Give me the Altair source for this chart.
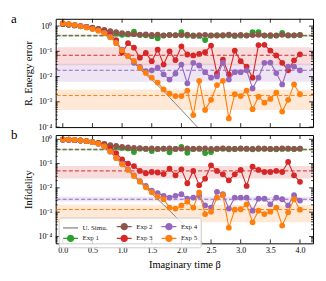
import altair as alt
import pandas as pd

# ---------------- data ----------------
beta = [0.0, 0.1, 0.2, 0.3, 0.4, 0.5, 0.6, 0.7, 0.8, 0.9,
        1.0, 1.1, 1.2, 1.3, 1.4, 1.5, 1.6, 1.7, 1.8, 1.9,
        2.0, 2.1, 2.2, 2.3, 2.4, 2.5, 2.6, 2.7, 2.8, 2.9,
        3.0, 3.1, 3.2, 3.3, 3.4, 3.5, 3.6, 3.7, 3.8, 3.9, 4.0]

exp_names = ["Exp 1", "Exp 2", "Exp 3", "Exp 4", "Exp 5"]
exp_colors = ["#2ca02c", "#8c564b", "#d62728", "#9467bd", "#ff7f0e"]
sim_name = "U. Simu."
sim_color = "#7f7f7f"

# (a) relative energy error
e_sim = [1.25, 1.18, 1.1, 1.0, 0.9, 0.78, 0.66, 0.54, 0.38, 0.22,
         0.115, 0.063, 0.035, 0.02, 0.012, 0.0075, 0.0045, 0.0027, 0.0015, 0.00085,
         0.00048, 0.00027, 0.00015, 0.000085, 0.000048, 0.000027]
e_exp1 = [1.2, 1.13, 1.06, 0.98, 0.92, 0.84, 0.76, 0.68, 0.6, 0.5,
          0.45, 0.47, 0.6, 0.44, 0.43, 0.4, 0.33, 0.42, 0.44, 0.43,
          0.58, 0.42, 0.43, 0.41, 0.28, 0.42, 0.44, 0.42, 0.43, 0.41,
          0.42, 0.43, 0.57, 0.58, 0.42, 0.41, 0.43, 0.54, 0.42, 0.43, 0.44]
e_exp2 = [1.22, 1.15, 1.08, 1.0, 0.93, 0.86, 0.78, 0.7, 0.63, 0.57,
          0.53, 0.5, 0.48, 0.46, 0.47, 0.45, 0.46, 0.43, 0.45, 0.44,
          0.44, 0.46, 0.41, 0.44, 0.45, 0.43, 0.42, 0.44, 0.46, 0.43,
          0.45, 0.42, 0.44, 0.45, 0.43, 0.44, 0.42, 0.45, 0.44, 0.43, 0.45]
e_exp3 = [1.25, 1.17, 1.09, 1.0, 0.92, 0.82, 0.72, 0.6, 0.45, 0.28,
          0.09, 0.21, 0.14, 0.056, 0.087, 0.041, 0.117, 0.03, 0.1, 0.045,
          0.158, 0.075, 0.069, 0.079, 0.093, 0.17, 0.013, 0.047, 0.0123, 0.107,
          0.041, 0.025, 0.0091, 0.178, 0.182, 0.107, 0.069, 0.035, 0.0178, 0.044, 0.076]
e_exp4 = [1.28, 1.19, 1.1, 1.0, 0.9, 0.78, 0.68, 0.55, 0.38, 0.22,
          0.117, 0.065, 0.035, 0.024, 0.0166, 0.0178, 0.0224, 0.0123, 0.0076, 0.0132,
          0.03, 0.0054, 0.035, 0.0275, 0.015, 0.0091, 0.0102, 0.035, 0.0076, 0.015,
          0.015, 0.0178, 0.0034, 0.0091, 0.035, 0.036, 0.0138, 0.0049, 0.025, 0.025, 0.0178]
e_exp5 = [1.31, 1.2, 1.12, 0.98, 0.89, 0.76, 0.66, 0.53, 0.36, 0.21,
          0.11, 0.065, 0.042, 0.022, 0.014, 0.0091, 0.0058, 0.0031, 0.0021, 0.0017,
          0.0017, 0.0028, 0.0003, 0.0068, 0.00048, 0.0012, 0.0046, 0.0068, 0.00022, 0.002,
          0.0017, 0.0028, 0.00051, 0.0016, 0.00093, 0.0013, 0.0023, 0.00041, 0.0012, 0.0049, 0.002]
e_mean = [0.41, 0.43, 0.07, 0.0178, 0.00178]
e_low = [0.38, 0.40, 0.028, 0.0063, 0.00048]
e_high = [0.45, 0.47, 0.145, 0.032, 0.0031]

# (b) infidelity
f_sim = [1.0, 0.98, 0.95, 0.91, 0.85, 0.77, 0.66, 0.52, 0.33, 0.18,
         0.095, 0.053, 0.03, 0.017, 0.0098, 0.0058, 0.0034, 0.002, 0.00115, 0.00066,
         0.00038, 0.00022, 0.000125, 0.000072, 0.000041]
f_exp1 = [0.97, 0.95, 0.92, 0.89, 0.84, 0.77, 0.7, 0.62, 0.55, 0.48,
          0.44, 0.42, 0.3, 0.41, 0.4, 0.33, 0.4, 0.41, 0.29, 0.4,
          0.49, 0.28, 0.4, 0.41, 0.27, 0.3, 0.4, 0.41, 0.39, 0.4,
          0.41, 0.4, 0.39, 0.4, 0.41, 0.4, 0.39, 0.4, 0.41, 0.4, 0.41]
f_exp2 = [0.98, 0.96, 0.93, 0.9, 0.85, 0.78, 0.71, 0.64, 0.58, 0.53,
          0.49, 0.46, 0.44, 0.43, 0.41, 0.42, 0.4, 0.41, 0.42, 0.4,
          0.41, 0.42, 0.4, 0.41, 0.42, 0.4, 0.41, 0.42, 0.41, 0.4,
          0.42, 0.41, 0.4, 0.42, 0.41, 0.4, 0.41, 0.42, 0.41, 0.4, 0.41]
f_exp3 = [0.98, 0.96, 0.93, 0.89, 0.84, 0.77, 0.69, 0.58, 0.42, 0.27,
          0.15, 0.1, 0.079, 0.05, 0.04, 0.045, 0.043, 0.037, 0.062, 0.033,
          0.058, 0.0155, 0.05, 0.0129, 0.024, 0.085, 0.05, 0.036, 0.0204, 0.036,
          0.055, 0.012, 0.074, 0.055, 0.045, 0.045, 0.05, 0.045, 0.117, 0.033, 0.0178]
f_exp4 = [0.99, 0.97, 0.94, 0.9, 0.84, 0.76, 0.65, 0.5, 0.31, 0.17,
          0.1, 0.058, 0.033, 0.019, 0.012, 0.0076, 0.006, 0.0047, 0.004, 0.0047,
          0.0055, 0.0036, 0.004, 0.0047, 0.0019, 0.00155, 0.0069, 0.0055, 0.0014, 0.004,
          0.004, 0.004, 0.00115, 0.0036, 0.0036, 0.0021, 0.004, 0.0034, 0.0019, 0.005, 0.003]
f_exp5 = [1.0, 0.98, 0.95, 0.9, 0.85, 0.76, 0.66, 0.52, 0.32, 0.17,
          0.093, 0.055, 0.031, 0.018, 0.0105, 0.0066, 0.0044, 0.0034, 0.00155, 0.0014,
          0.0019, 0.0027, 0.00155, 0.0065, 0.00083, 0.00105, 0.004, 0.005, 0.00023, 0.00126,
          0.00132, 0.0021, 0.00038, 0.00115, 0.00083, 0.00105, 0.00155, 0.00028, 0.00098, 0.0034, 0.00126]
f_mean = [0.37, 0.39, 0.05, 0.0034, 0.00129]
f_low = [0.34, 0.37, 0.0245, 0.00275, 0.00038]
f_high = [0.40, 0.42, 0.079, 0.0043, 0.002]

band_opacity = [0.12, 0.12, 0.17, 0.17, 0.17]

x_tick_values = [0.0, 0.5, 1.0, 1.5, 2.0, 2.5, 3.0, 3.5, 4.0]
y_major = [1e-4, 1e-3, 1e-2, 1e-1, 1.0]

legend_order = ["U. Simu.", "Exp 1", "Exp 2", "Exp 3", "Exp 4", "Exp 5"]
legend_colors = ["#7f7f7f", "#2ca02c", "#8c564b", "#d62728", "#9467bd", "#ff7f0e"]

# ---------------- styling ----------------
W, H = 259, 109
SERIF = "Liberation Serif"
X_DOMAIN = [-0.12, 4.22]

ring = ("M{r},0A{r},{r},0,1,1,-{r},0A{r},{r},0,1,1,{r},0")
disc = "".join(ring.format(r=r) for r in [0.62, 0.44, 0.26, 0.1])
line_path = "M-1.5,0L1.5,0"
legend_paths = [line_path] + [line_path + disc] * 5

label_expr = ("datum.value >= 0.5 ? '10⁰' : datum.value >= 0.05 ? '10⁻¹' : "
              "datum.value >= 0.005 ? '10⁻²' : datum.value >= 0.0005 ? '10⁻³' : '10⁻⁴'")


def minor_values(lo, hi):
    out = []
    for e in range(-5, 1):
        for k in range(2, 10):
            v = k * 10.0 ** e
            if lo <= v <= hi:
                out.append(v)
    return out


def panel(sim, exps, means, lows, highs, ydom, ytitle, label, bottom):
    ys = alt.Scale(type="log", domain=ydom, nice=False)
    yaxis = alt.Axis(values=y_major, labelExpr=label_expr, title=ytitle,
                     titlePadding=5, labelPadding=4)
    xs = alt.Scale(domain=X_DOMAIN, nice=False, zero=False)
    if bottom:
        xaxis = alt.Axis(values=x_tick_values, format=".1f", title="Imaginary time β",
                         titlePadding=5, labelPadding=3)
    else:
        xaxis = None

    def Y(f):
        return alt.Y(f, type="quantitative", scale=ys, axis=yaxis)

    def X(f):
        return alt.X(f, type="quantitative", scale=xs, axis=xaxis)

    layers = []
    for i in range(5):
        d = pd.DataFrame({"lo": [lows[i]], "hi": [highs[i]]})
        layers.append(alt.Chart(d).mark_rect(color=exp_colors[i], opacity=band_opacity[i]).encode(
            x=alt.value(0), x2=alt.value(W), y=Y("hi"), y2="lo:Q"))
    for i in range(5):
        d = pd.DataFrame({"m": [means[i]]})
        layers.append(alt.Chart(d).mark_rule(color=exp_colors[i], strokeDash=[4, 2.2],
                                             strokeWidth=1).encode(y=Y("m")))
    ds = pd.DataFrame({"b": beta[:len(sim)], "v": sim})
    layers.append(alt.Chart(ds).mark_line(color=sim_color, strokeWidth=1, clip=True).encode(
        x=X("b"), y=Y("v")))
    for i in range(5):
        d = pd.DataFrame({"b": beta, "v": exps[i]})
        layers.append(alt.Chart(d).mark_line(color=exp_colors[i], strokeWidth=1.1, clip=True).encode(
            x=X("b"), y=Y("v")))
        layers.append(alt.Chart(d).mark_circle(color=exp_colors[i], size=34, opacity=1, clip=True).encode(
            x=X("b"), y=Y("v")))
    dmaj = pd.DataFrame({"t": y_major})
    dmin = pd.DataFrame({"t": minor_values(ydom[0], ydom[1])})
    dx = pd.DataFrame({"t": x_tick_values})
    tick = dict(color="black", strokeWidth=0.8)
    layers += [
        alt.Chart(dmaj).mark_rule(**tick).encode(y=Y("t"), x=alt.value(0), x2=alt.value(4)),
        alt.Chart(dmaj).mark_rule(**tick).encode(y=Y("t"), x=alt.value(W - 4), x2=alt.value(W)),
        alt.Chart(dmin).mark_rule(**tick).encode(y=Y("t"), x=alt.value(0), x2=alt.value(2)),
        alt.Chart(dmin).mark_rule(**tick).encode(y=Y("t"), x=alt.value(W - 2), x2=alt.value(W)),
        alt.Chart(dx).mark_rule(**tick).encode(x=X("t"), y=alt.value(H), y2=alt.value(H - 4)),
        alt.Chart(dx).mark_rule(**tick).encode(x=X("t"), y=alt.value(0), y2=alt.value(4)),
    ]
    layers.append(alt.Chart(pd.DataFrame({"t": [label]})).mark_text(
        font=SERIF, fontSize=13, align="left", baseline="alphabetic", color="black").encode(
        text="t:N", x=alt.value(-45), y=alt.value(4)))
    if bottom:
        leg = alt.Legend(title=None, orient="none", legendX=3, legendY=83, columns=3,
                         labelFont=SERIF, labelFontSize=7, labelColor="#222222",
                         symbolSize=100, symbolStrokeWidth=1.2, labelOffset=6,
                         symbolOffset=3, fillColor="rgba(255,255,255,0.8)",
                         strokeColor="#cccccc", padding=3, cornerRadius=2,
                         rowPadding=0, columnPadding=6)
        dl = pd.DataFrame({"series": legend_order})
        layers.append(alt.Chart(dl).transform_filter("false").mark_point(
            filled=False, opacity=1, strokeWidth=1.2).encode(
            color=alt.Color("series:N", scale=alt.Scale(domain=legend_order, range=legend_colors), legend=leg),
            shape=alt.Shape("series:N", scale=alt.Scale(domain=legend_order, range=legend_paths), legend=leg)))
    return alt.layer(*layers).properties(width=W, height=H)


top = panel(e_sim, [e_exp1, e_exp2, e_exp3, e_exp4, e_exp5], e_mean, e_low, e_high,
            [1e-4, 1.95], "R. Energy error", "a", False)
bot = panel(f_sim, [f_exp1, f_exp2, f_exp3, f_exp4, f_exp5], f_mean, f_low, f_high,
            [5.2e-5, 1.5], "Infidelity", "b", True)

chart = alt.vconcat(top, bot, spacing=8, bounds="flush").resolve_scale(
    color="independent", shape="independent").resolve_legend(
    color="independent", shape="independent").configure_view(
    stroke="black", strokeWidth=1).configure_axis(
    grid=False, ticks=False, domain=False, labelFont=SERIF, titleFont=SERIF,
    labelColor="black", titleColor="black", titleFontWeight="normal",
    labelFontSize=8, titleFontSize=10.5).properties(
    padding={"left": 2, "top": 3, "right": 4, "bottom": 2})

chart.save("out.html", embed_options={"renderer": "svg", "actions": False})
